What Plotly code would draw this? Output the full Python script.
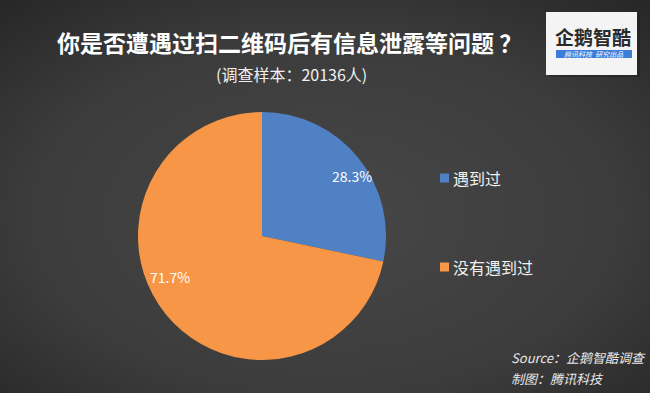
import math
import plotly.graph_objects as go

categories = ["遇到过", "没有遇到过"]
values = [28.3, 71.7]
colors = ["#4f81c4", "#f79646"]

title_text = "你是否遭遇过扫二维码后有信息泄露等问题 ？"
subtitle_text = "(调查样本：20136人)"
source_lines = ["Source：企鹅智酷调查", "制图：腾讯科技"]

W, H = 650, 393
CJK = "Noto Sans CJK SC"

# pie geometry (pixels)
PIE_CX, PIE_CY, PIE_R = 262, 236, 124
# label placement style (fraction of radius, angle shift in degrees)
label_radius = [0.87, 0.81]
label_shift = [5.5, 15.0]

bg_svg = (
    "data:image/svg+xml;utf8,"
    "<svg xmlns='http://www.w3.org/2000/svg' width='650' height='393'>"
    "<defs><radialGradient id='g' cx='50%25' cy='55%25' r='75%25'>"
    "<stop offset='0' stop-color='%23474747'/>"
    "<stop offset='0.6' stop-color='%233c3c3c'/>"
    "<stop offset='1' stop-color='%23262626'/>"
    "</radialGradient></defs>"
    "<rect width='650' height='393' fill='url(%23g)'/></svg>"
)

fig = go.Figure()
fig.add_trace(go.Pie(
    labels=categories,
    values=values,
    sort=False,
    direction="clockwise",
    rotation=0,
    marker=dict(colors=colors, line=dict(width=0)),
    textinfo="none",
    showlegend=False,
    domain=dict(x=[(PIE_CX - PIE_R) / W, (PIE_CX + PIE_R) / W],
                y=[(H - PIE_CY - PIE_R) / H, (H - PIE_CY + PIE_R) / H]),
    hoverinfo="label+percent",
))

shapes = []
annotations = []

# percent labels computed from values
total = sum(values)
cum = 0.0
for v, rf, sh in zip(values, label_radius, label_shift):
    mid = (cum + v / 2) / total * 360 + sh
    cum += v
    px = PIE_CX + rf * PIE_R * math.sin(math.radians(mid))
    py = PIE_CY - rf * PIE_R * math.cos(math.radians(mid))
    annotations.append(dict(text=f"{v / total * 100:.1f}%", xref="paper", yref="paper",
                            x=px / W, y=(H - py) / H, xanchor="center", yanchor="middle",
                            showarrow=False,
                            font=dict(family=CJK, size=14, color="#ffffff")))

# custom legend
legend_y = [178, 267]
for cat, col, yy in zip(categories, colors, legend_y):
    shapes.append(dict(type="rect", xref="paper", yref="paper",
                       x0=440 / W, x1=449 / W, y0=(H - yy - 4.5) / H, y1=(H - yy + 4.5) / H,
                       fillcolor=col, line=dict(width=0)))
    annotations.append(dict(text=cat, xref="paper", yref="paper",
                            x=451 / W, y=(H - yy) / H, xanchor="left", yanchor="middle",
                            showarrow=False,
                            font=dict(family=CJK, size=16, color="#f2f2f2")))

# title & subtitle
annotations.append(dict(text="<b>" + title_text + "</b>", xref="paper", yref="paper",
                        x=289 / W, y=(H - 42) / H, xanchor="center", yanchor="middle",
                        showarrow=False,
                        font=dict(family=CJK, size=23, color="#ffffff")))
annotations.append(dict(text=subtitle_text, xref="paper", yref="paper",
                        x=291 / W, y=(H - 74) / H, xanchor="center", yanchor="middle",
                        showarrow=False,
                        font=dict(family=CJK, size=16, color="#f0f0f0")))

# source
for i, line in enumerate(source_lines):
    annotations.append(dict(text="<i>" + line + "</i>", xref="paper", yref="paper",
                            x=509 / W, y=(H - 357 - i * 21) / H, xanchor="left", yanchor="middle",
                            showarrow=False,
                            font=dict(family=CJK, size=13, color="#e8e8e8")))

# logo box
shapes.append(dict(type="rect", xref="paper", yref="paper",
                   x0=549 / W, x1=640 / W, y0=(H - 77) / H, y1=(H - 14) / H,
                   fillcolor="#1e1e1e", line=dict(width=0), opacity=0.5))
shapes.append(dict(type="rect", xref="paper", yref="paper",
                   x0=546 / W, x1=637 / W, y0=(H - 75) / H, y1=(H - 12) / H,
                   fillcolor="#f4f4f4", line=dict(width=0)))
shapes.append(dict(type="rect", xref="paper", yref="paper",
                   x0=556 / W, x1=632 / W, y0=(H - 58) / H, y1=(H - 50) / H,
                   fillcolor="#3b7dd8", line=dict(width=0)))
annotations.append(dict(text="<b>企鹅智酷</b>", xref="paper", yref="paper",
                        x=593 / W, y=(H - 36) / H, xanchor="center", yanchor="middle",
                        showarrow=False,
                        font=dict(family=CJK, size=19, color="#2a2a2a")))
annotations.append(dict(text="<i>腾讯科技  研究出品</i>", xref="paper", yref="paper",
                        x=594 / W, y=(H - 54) / H, xanchor="center", yanchor="middle",
                        showarrow=False,
                        font=dict(family=CJK, size=7, color="#ffffff")))

fig.update_layout(
    width=W, height=H,
    margin=dict(l=0, r=0, t=0, b=0),
    paper_bgcolor="#3c3c3c",
    plot_bgcolor="#3c3c3c",
    shapes=shapes,
    annotations=annotations,
    images=[dict(source=bg_svg, xref="paper", yref="paper", x=0, y=1,
                 sizex=1, sizey=1, xanchor="left", yanchor="top",
                 sizing="stretch", layer="below")],
)

fig.write_html(
    "out.html",
    config={"displayModeBar": False},
    post_script="document.body.style.margin='0';document.body.style.overflow='hidden';",
)
